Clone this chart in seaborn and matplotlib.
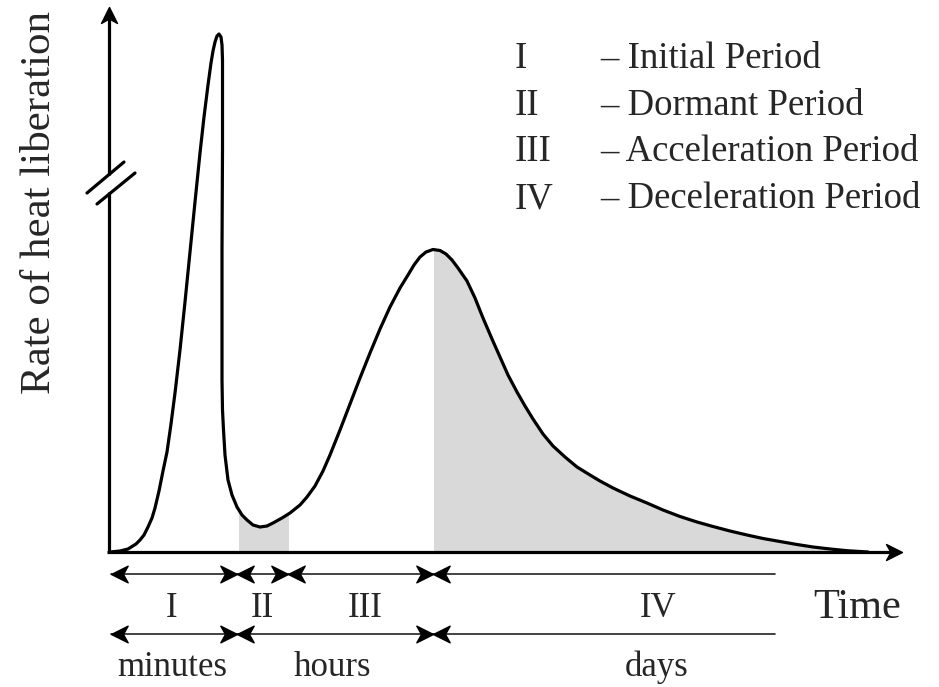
import numpy as np
import matplotlib
matplotlib.use("Agg")
import matplotlib.pyplot as plt
from matplotlib.path import Path
import seaborn as sns

# schematic heat-flow curve (time and rate in arbitrary units)
time = [1, 11, 19, 27, 31, 35, 39, 43, 46, 50, 54, 58, 62, 66, 71, 76, 81, 86, 91, 95,
        99, 102, 104, 106, 108, 110, 112, 113, 113.5, 113.5, 113.5, 113, 113, 113,
        113.5, 114.5, 116, 119, 123, 128, 133, 138, 144, 151, 158, 164, 173, 181,
        191, 198, 206, 214, 221, 231, 241, 251, 261, 271, 281, 291, 299, 305, 311,
        317, 324, 331, 337, 343, 349, 358, 366, 374, 383, 391, 399, 408, 416, 424,
        434, 444, 456, 468, 481, 491, 504, 521, 538, 554, 571, 588, 604, 621, 638,
        654, 671, 688, 704, 721, 738, 759]
rate = [0, 1, 3, 8, 12, 17, 25, 34, 44, 61, 81, 100, 128, 159, 202, 250, 300, 350, 399, 435,
        467, 489, 501, 510, 516, 518, 515, 507, 492, 472, 402, 302, 232, 172,
        142, 122, 97, 72, 57, 45, 37, 32, 27, 25, 26, 29, 34, 39,
        47, 55, 66, 81, 97, 122, 148, 174, 199, 223, 245, 264, 277, 287, 295,
        300, 302.5, 301.5, 298, 292, 284, 271, 254, 234, 213, 195, 177, 160, 146, 133,
        118, 106, 95, 85, 77, 71, 64, 56, 49, 42, 35.5, 30, 25.5, 21, 17,
        13.5, 10.5, 7.5, 5, 3, 1.3, 0]

# shaded periods under the curve
shade_spans = [(130, 180), (325, 759)]

# period arrows
period_bounds = [2, 128, 179, 324, 666]
period_labels = ["I", "II", "III", "IV"]
period_label_x = [63, 153, 256, 549]
scale_bounds = [2, 128, 324, 666]
scale_labels = ["minutes", "hours", "days"]
scale_label_x = [63, 223, 548]

legend_keys = ["I", "II", "III", "IV"]
legend_text = ["– Initial Period", "– Dormant Period", "– Acceleration Period",
               "– Deceleration Period"]

sns.set_style("white")
plt.rcParams["font.family"] = ["Liberation Serif", "DejaVu Serif"]

fig = plt.figure(figsize=(9.39, 6.87), dpi=100)
ax = fig.add_axes([0, 0, 1, 1])
ax.set_xlim(-109, 830)
ax.set_ylim(-135, 552)
ax.axis("off")


def head(direction):
    v = np.array([(0, 0), (-1, 0.5), (-0.72, 0), (-1, -0.5), (0, 0)])
    if direction == "left":
        v[:, 0] *= -1
    elif direction == "up":
        v = v[:, ::-1].copy()
    codes = [Path.MOVETO, Path.LINETO, Path.LINETO, Path.LINETO, Path.CLOSEPOLY]
    return Path(v, codes)


# curve
sns.lineplot(x=time, y=rate, sort=False, estimator=None, color="black",
             linewidth=2.3, ax=ax, zorder=4, solid_joinstyle="round")

# shading clipped to the area under the curve
area = ax.fill_between(time, 0, rate, color="none", lw=0)
for a, b in shade_spans:
    sp = ax.axvspan(a, b, color="#d9d9d9", lw=0, zorder=1)
    sp.set_clip_path(area.get_paths()[0], ax.transData)

# axes with arrows and axis break
ax.plot([0, 0], [0, 360], color="black", lw=2.3, zorder=5, solid_capstyle="butt")
ax.plot([0, 0], [377, 535], color="black", lw=2.3, zorder=5, solid_capstyle="butt")
ax.plot([0], [545], marker=head("up"), ms=23, color="black", zorder=5)
ax.plot([-2, 783], [0, 0], color="black", lw=2.3, zorder=5, solid_capstyle="butt")
ax.plot([793], [0], marker=head("right"), ms=23, color="black", zorder=5)
ax.plot([-22, 15], [359, 390], color="black", lw=2.3, zorder=5)
ax.plot([-12, 26], [348, 379], color="black", lw=2.3, zorder=5)


def arrow_row(bounds, y):
    for i in range(len(bounds) - 1):
        a, b = bounds[i], bounds[i + 1]
        ax.plot([a, b], [y, y], color="#222222", lw=1.2, zorder=5)
        ax.plot([a], [y], marker=head("left"), ms=24, color="black", zorder=6)
        if i < len(bounds) - 2:
            ax.plot([b], [y], marker=head("right"), ms=24, color="black", zorder=6)


arrow_row(period_bounds, -22)
arrow_row(scale_bounds, -82)

for lab, x in zip(period_labels, period_label_x):
    ax.text(x, -65, lab, ha="center", va="baseline", fontsize=25)
for lab, x in zip(scale_labels, scale_label_x):
    ax.text(x, -124, lab, ha="center", va="baseline", fontsize=25)
ax.text(704, -66, "Time", ha="left", va="baseline", fontsize=30.5)

ax.text(-59, 349, "Rate of heat liberation", rotation=90, rotation_mode="anchor",
        ha="center", va="baseline", fontsize=31)

for i, (k, t) in enumerate(zip(legend_keys, legend_text)):
    yb = 484 - 46.7 * i
    ax.text(406, yb, k, ha="left", va="baseline", fontsize=26.5)
    ax.text(491, yb, t, ha="left", va="baseline", fontsize=26.5)

fig.savefig("out.png", dpi=100)
